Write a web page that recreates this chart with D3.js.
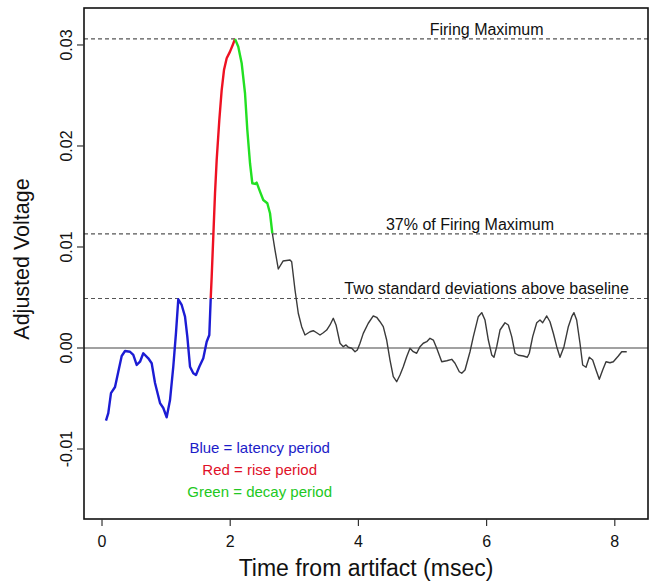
<!DOCTYPE html>
<html><head><meta charset="utf-8">
<script src="https://cdn.jsdelivr.net/npm/d3@7"></script>
<style>body{margin:0;background:#fff}svg{display:block}text{font-family:"Liberation Sans",Arial,sans-serif}</style>
</head><body>
<script>
const time = [0.062,0.098,0.140,0.203,0.254,0.307,0.359,0.437,0.488,0.541,0.593,0.644,0.722,0.775,0.827,0.905,0.956,1.009,1.061,1.112,1.154,1.190,1.243,1.295,1.331,1.373,1.424,1.466,1.518,1.580,1.633,1.674,1.696,
1.711,1.736,1.763,1.789,1.830,1.867,1.903,1.945,1.997,2.039,2.075,
2.126,2.179,2.231,2.267,2.309,2.345,2.387,2.413,2.465,2.516,2.579,2.621,2.657,
2.699,2.750,2.824,2.933,2.959,3.011,3.062,3.115,3.167,3.245,3.296,3.349,3.401,3.452,3.505,3.557,3.608,3.651,3.713,3.764,3.807,3.842,3.896,3.947,3.983,4.025,4.076,4.154,4.232,4.285,4.337,4.388,4.441,4.493,4.544,4.597,4.649,4.700,4.753,4.805,4.856,4.909,4.961,5.012,5.066,5.117,5.169,5.222,5.300,5.378,5.456,5.507,5.574,5.612,5.663,5.741,5.793,5.870,5.924,5.975,6.027,6.080,6.115,6.158,6.209,6.287,6.339,6.392,6.443,6.495,6.573,6.635,6.666,6.719,6.782,6.833,6.875,6.938,6.989,7.041,7.094,7.145,7.207,7.275,7.328,7.363,7.405,7.457,7.499,7.551,7.602,7.655,7.707,7.758,7.811,7.863,7.925,7.977,8.055,8.108,8.186];
const voltage = [-0.0072,-0.00644,-0.00446,-0.00386,-0.00235,-0.00079,-0.0003,-0.00037,-0.00069,-0.00168,-0.00136,-0.00052,-0.00102,-0.00151,-0.00347,-0.00545,-0.00594,-0.00686,-0.00515,-0.00185,0.00149,0.00482,0.00426,0.0031,0.00112,-0.00185,-0.0025,-0.00267,-0.00185,-0.00102,0.00062,0.00129,0.00492,
0.00706,0.01102,0.01532,0.01861,0.02257,0.02554,0.02752,0.02868,0.02934,0.0300,0.0306,
0.02983,0.02819,0.02522,0.02158,0.01829,0.01631,0.01624,0.01637,0.01548,0.01465,0.01433,0.01334,0.01136,
0.0097,0.00782,0.00861,0.00871,0.00854,0.00574,0.00344,0.00211,0.00129,0.00161,0.00171,0.00151,0.00129,0.00151,0.00178,0.00228,0.00294,0.00228,0.00047,0.00013,0.0003,0.00007,-0.00003,-0.00037,-0.0002,0.00047,0.00145,0.00245,0.00317,0.00304,0.0026,0.00211,0.00079,-0.00119,-0.00284,-0.00334,-0.00267,-0.00185,-0.00086,-0.00003,-0.00037,-0.00052,0.00013,0.00047,0.00062,0.00096,0.00079,-0.00003,-0.00136,-0.00126,-0.00112,-0.00151,-0.00235,-0.0025,-0.00218,-0.00037,0.00112,0.0031,0.0035,0.00277,0.00079,-0.00069,-0.00092,0.00013,0.00178,0.0025,0.00228,0.00112,-0.00052,-0.00072,-0.00079,-0.00092,-0.00052,0.00112,0.0025,0.00277,0.0025,0.00317,0.0026,0.00146,0.00013,-0.00092,0.00013,0.00211,0.0031,0.0035,0.00277,0.00047,-0.00168,-0.00191,-0.00092,-0.00119,-0.00218,-0.0031,-0.00218,-0.00136,-0.00146,-0.00136,-0.00079,-0.00037,-0.00037];

const riseStart = 1.696, peakTime = 2.075, decayEnd = 2.657;
const refValues = [0.0306, 0.0113, 0.0049];
const refLabels = ["Firing Maximum", "37% of Firing Maximum", "Two standard deviations above baseline"];
const xTicks = [0, 2, 4, 6, 8];
const yTicks = [-0.01, 0.00, 0.01, 0.02, 0.03];
const yTickLabels = ["-0.01", "0.00", "0.01", "0.02", "0.03"];
const legendLabels = ["Blue = latency period", "Red = rise period", "Green = decay period"];

const W = 654, H = 581;
const L = 84, R = 648, T = 8, B = 519;
const svg = d3.select("body").append("svg").attr("width", W).attr("height", H);
const x = d3.scaleLinear().domain([-0.281, 8.518]).range([L, R]);
const y = d3.scaleLinear().domain([-0.01693, 0.03366]).range([B, T]);

const segColors = {blue: "#1c1cd4", red: "#ee1122", green: "#22e022", black: "#3a3a3a"};
const pts = time.map((t, i) => ({t, v: voltage[i]}));
const segs = [
  {c: segColors.blue, w: 2.4, p: pts.filter(d => d.t <= riseStart)},
  {c: segColors.red, w: 2.4, p: pts.filter(d => d.t >= riseStart && d.t <= peakTime)},
  {c: segColors.green, w: 2.4, p: pts.filter(d => d.t >= peakTime && d.t <= decayEnd)},
  {c: segColors.black, w: 1.4, p: pts.filter(d => d.t >= decayEnd)}
];

// zero line
svg.append("line").attr("x1", L).attr("x2", R).attr("y1", y(0)).attr("y2", y(0))
  .attr("stroke", "#444").attr("stroke-width", 1.2);
// reference lines
const refLblX = [6.0, 5.74, 6.0];
refValues.forEach((v, i) => {
  svg.append("line").attr("x1", L).attr("x2", R).attr("y1", y(v)).attr("y2", y(v))
    .attr("stroke", "#555").attr("stroke-width", 1.1).attr("stroke-dasharray", "4,3");
  svg.append("text").attr("x", x(refLblX[i])).attr("y", y(v) - 4)
    .attr("text-anchor", "middle").attr("font-size", 16).attr("fill", "#111").text(refLabels[i]);
});

const line = d3.line().x(d => x(d.t)).y(d => y(d.v));
segs.forEach(s => {
  svg.append("path").datum(s.p).attr("d", line).attr("fill", "none")
    .attr("stroke", s.c).attr("stroke-width", s.w).attr("stroke-linejoin", "round");
});

// box
svg.append("rect").attr("x", L).attr("y", T).attr("width", R - L).attr("height", B - T)
  .attr("fill", "none").attr("stroke", "#111").attr("stroke-width", 1.6);

// x axis
const xa = svg.append("g");
xTicks.forEach(t => {
  xa.append("line").attr("x1", x(t)).attr("x2", x(t)).attr("y1", B).attr("y2", B + 7).attr("stroke", "#333").attr("stroke-width", 1.2);
  xa.append("text").attr("x", x(t)).attr("y", B + 28).attr("text-anchor", "middle").attr("font-size", 16).attr("fill", "#111").text(t);
});
svg.append("text").attr("x", 366).attr("y", 576).attr("text-anchor", "middle")
  .attr("font-size", 23).attr("fill", "#111").text("Time from artifact (msec)");

// y axis
yTicks.forEach((v, i) => {
  svg.append("line").attr("x1", L - 7).attr("x2", L).attr("y1", y(v)).attr("y2", y(v)).attr("stroke", "#333").attr("stroke-width", 1.2);
  svg.append("text").attr("transform", `translate(${L - 12},${y(v)}) rotate(-90)`)
    .attr("text-anchor", "middle").attr("font-size", 16).attr("fill", "#111").text(yTickLabels[i]);
});
svg.append("text").attr("transform", `translate(29,${259}) rotate(-90)`)
  .attr("text-anchor", "middle").attr("font-size", 21.5).attr("fill", "#111").text("Adjusted Voltage");

// legend
const legColors = ["#1c1cc8", "#e01028", "#22c822"];
legendLabels.forEach((s, i) => {
  svg.append("text").attr("x", x(2.46)).attr("y", 453 + i * 22).attr("text-anchor", "middle")
    .attr("font-size", 15).attr("fill", legColors[i]).text(s);
});
</script>
</body></html>
